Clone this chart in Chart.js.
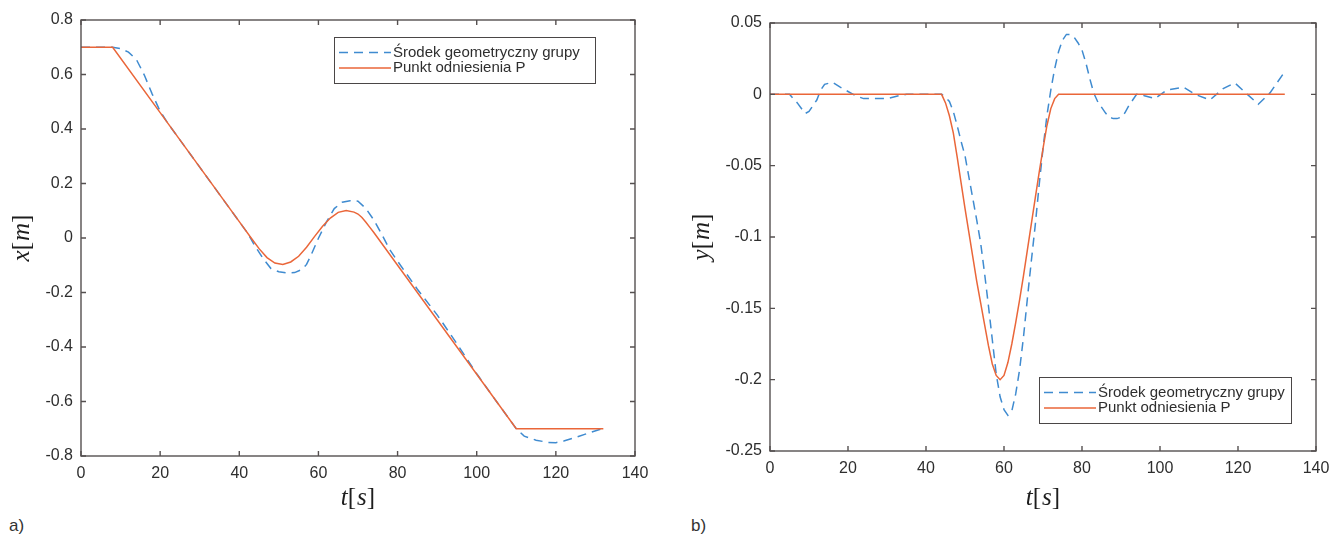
<!DOCTYPE html>
<html>
<head>
<meta charset="utf-8">
<script src="https://cdn.jsdelivr.net/npm/chart.js@4"></script>
<style>
  html, body { margin: 0; padding: 0; background: #fff; }
  body { width: 1341px; height: 538px; position: relative; overflow: hidden; font-family: 'Liberation Sans', Arial, sans-serif; }
  .panel { position: absolute; top: 0; }
  .tag { position: absolute; top: 516px; font-size: 17px; line-height: 20px; color: #333; }
</style>
</head>
<body>
<div class="panel" style="left:0"><canvas id="chartX" width="670" height="515"></canvas></div>
<div class="panel" style="left:680px"><canvas id="chartY" width="661" height="515"></canvas></div>
<div class="tag" style="left:9px">a)</div>
<div class="tag" style="left:691px">b)</div>
<script>
// series labels
const seriesNames = ['Środek geometryczny grupy', 'Punkt odniesienia P'];

// time axis ticks (shared)
const timeTicks = [0, 20, 40, 60, 80, 100, 120, 140];
const timeTickLabels = ['0', '20', '40', '60', '80', '100', '120', '140'];

// a) x position
const xPosTicks = [-0.8, -0.6, -0.4, -0.2, 0, 0.2, 0.4, 0.6, 0.8];
const xPosTickLabels = ['-0.8', '-0.6', '-0.4', '-0.2', '0', '0.2', '0.4', '0.6', '0.8'];

const tGroupX = [0, 8, 10, 12, 14, 16, 18, 20, 22, 30,
  40, 42, 44, 46, 48, 50, 52, 54, 56, 57,
  58, 60, 62, 64, 66, 68, 70, 72, 74, 76,
  78, 80, 85, 90, 95, 100, 105, 108, 110, 112,
  115, 118, 120, 122, 125, 128, 132];
const groupX = [0.70, 0.70, 0.695, 0.682, 0.655, 0.598, 0.528, 0.465, 0.42, 0.26,
  0.06, 0.02, -0.03, -0.075, -0.112, -0.124, -0.128, -0.127, -0.114, -0.097,
  -0.067, -0.001, 0.058, 0.108, 0.131, 0.137, 0.135, 0.108, 0.066, 0.014,
  -0.042, -0.085, -0.188, -0.282, -0.388, -0.498, -0.6, -0.66, -0.7, -0.727,
  -0.742, -0.75, -0.751, -0.745, -0.732, -0.717, -0.698];

const tRefX = [0, 8, 20, 30, 40, 43, 45, 47, 49, 51,
  53, 55, 57, 59, 61, 63, 65, 67, 69, 70,
  71, 72, 73, 74, 90, 110, 132];
const refX = [0.70, 0.70, 0.46, 0.26, 0.06, 0.0, -0.039, -0.072, -0.092, -0.097,
  -0.088, -0.067, -0.034, 0.005, 0.042, 0.073, 0.094, 0.101, 0.095, 0.088,
  0.075, 0.058, 0.039, 0.020, -0.30, -0.70, -0.70];

// b) y position
const yPosTicks = [-0.25, -0.2, -0.15, -0.1, -0.05, 0, 0.05];
const yPosTickLabels = ['-0.25', '-0.2', '-0.15', '-0.1', '-0.05', '0', '0.05'];

const tGroupY = [0, 5, 7, 9, 10, 11, 12, 13, 14, 16, 18, 20, 22, 24, 27, 30, 33, 35, 44,
  45, 46, 47, 48, 49, 50, 51, 52, 53, 54,
  55, 56, 57, 58, 59, 60, 61, 62, 63, 64,
  65, 66, 67, 68, 69, 70, 71, 72, 73, 74,
  75, 76, 77, 78, 79, 80, 81, 82, 83, 84,
  85, 86, 87, 88, 89, 90, 91, 92, 93, 94,
  95, 96, 98.7, 101.7, 106, 109, 112.8, 116.2, 119.2, 122.4, 125.2, 128.2, 131.5, 132];
const groupY = [0, 0, -0.006, -0.0135, -0.012, -0.008, -0.004, 0.003, 0.007, 0.0085, 0.005, 0.002, -0.001, -0.003, -0.003, -0.003, -0.001, 0, 0,
  -0.002, -0.005, -0.012, -0.022, -0.033, -0.043, -0.058, -0.073, -0.088, -0.104,
  -0.125, -0.148, -0.172, -0.196, -0.212, -0.221, -0.225, -0.222, -0.210, -0.193,
  -0.170, -0.143, -0.117, -0.092, -0.064, -0.038, -0.015, 0.003, 0.018, 0.030,
  0.038, 0.042, 0.042, 0.040, 0.036, 0.031, 0.022, 0.011, 0.001, -0.005,
  -0.009, -0.013, -0.016, -0.017, -0.017, -0.016, -0.013, -0.008, -0.004, 0,
  0, -0.001, -0.003, 0.003, 0.005, 0, -0.004, 0.004, 0.008, 0, -0.007, 0.001, 0.014, 0.013];

const tRefY = [0, 44, 45, 46, 47, 48, 49, 50, 51, 52, 53,
  54, 55, 56, 57, 58, 59, 60, 61, 62, 63,
  64, 65, 66, 67, 68, 69, 70, 71, 72, 73, 74, 132];
const refY = [0, 0, -0.006, -0.015, -0.027, -0.044, -0.062, -0.080, -0.097, -0.114, -0.131,
  -0.146, -0.161, -0.176, -0.189, -0.197, -0.200, -0.197, -0.188, -0.175, -0.160,
  -0.144, -0.127, -0.109, -0.091, -0.073, -0.055, -0.038, -0.022, -0.010, -0.003, 0, 0];

const BLUE = '#3f8bd0';
const ORANGE = '#ea6639';
const AXIS = '#555050';
const TEXT = '#2e2e2e';

const pairs = (ts, vs) => ts.map((t, i) => ({ x: t, y: vs[i] }));

// MATLAB-like box with inward ticks on all four sides
const boxAxes = {
  id: 'boxAxes',
  afterDatasetsDraw(chart) {
    const { ctx, chartArea: a, scales: { x, y } } = chart;
    ctx.save();
    ctx.strokeStyle = AXIS;
    ctx.lineWidth = 1.4;
    ctx.strokeRect(a.left, a.top, a.right - a.left, a.bottom - a.top);
    ctx.beginPath();
    x.ticks.forEach(t => {
      const px = x.getPixelForValue(t.value);
      ctx.moveTo(px, a.bottom); ctx.lineTo(px, a.bottom - 5);
      ctx.moveTo(px, a.top); ctx.lineTo(px, a.top + 5);
    });
    y.ticks.forEach(t => {
      const py = y.getPixelForValue(t.value);
      ctx.moveTo(a.left, py); ctx.lineTo(a.left + 5, py);
      ctx.moveTo(a.right, py); ctx.lineTo(a.right - 5, py);
    });
    ctx.stroke();
    ctx.restore();
  }
};

// boxed legend inside the axes
const boxLegend = {
  id: 'boxLegend',
  afterDraw(chart, args, opts) {
    const { ctx } = chart;
    const { left, top, width, height } = opts;
    ctx.save();
    ctx.fillStyle = '#fff';
    ctx.fillRect(left, top, width, height);
    ctx.strokeStyle = '#4a4646';
    ctx.lineWidth = 1;
    ctx.strokeRect(left + 0.5, top + 0.5, width, height);
    ctx.font = '15px "Liberation Sans", Arial, sans-serif';
    ctx.textBaseline = 'middle';
    chart.data.datasets.forEach((ds, i) => {
      const ry = top + 15.5 + i * 15.5;
      ctx.strokeStyle = ds.borderColor;
      ctx.lineWidth = ds.borderWidth;
      ctx.setLineDash(ds.borderDash || []);
      ctx.beginPath();
      ctx.moveTo(left + 5, ry); ctx.lineTo(left + 57, ry);
      ctx.stroke();
      ctx.setLineDash([]);
      ctx.fillStyle = TEXT;
      ctx.fillText(ds.label, left + 59, ry);
    });
    ctx.restore();
  }
};

// axis labels in TeX style: italic letters, upright brackets
function drawMath(ctx, text, cx, cy, rot) {
  const parts = text.match(/[\[\]]|[^\[\]]+/g);
  const fontFor = p => (p === '[' || p === ']' ? '' : 'italic ') + '25px "Liberation Serif", serif';
  const widths = parts.map(p => { ctx.font = fontFor(p); return ctx.measureText(p).width + (p === '[' ? 1 : 0); });
  const total = widths.reduce((s, w) => s + w, 0);
  ctx.save();
  ctx.translate(cx, cy);
  ctx.rotate(rot);
  ctx.fillStyle = '#1e1e1e';
  ctx.textBaseline = 'middle';
  let x = -total / 2;
  parts.forEach((p, i) => {
    ctx.font = fontFor(p);
    ctx.fillText(p, x, 0);
    x += widths[i];
  });
  ctx.restore();
}

const mathTitles = {
  id: 'mathTitles',
  afterDraw(chart, args, opts) {
    const { ctx, chartArea: a } = chart;
    drawMath(ctx, opts.x, (a.left + a.right) / 2, opts.xTitleY, 0);
    drawMath(ctx, opts.y, opts.yTitleX, (a.top + a.bottom) / 2, -Math.PI / 2);
  }
};

function makeChart(id, cfg) {
  new Chart(document.getElementById(id), {
    type: 'line',
    data: {
      datasets: [
        { label: seriesNames[0], data: pairs(cfg.tGroup, cfg.group), borderColor: BLUE, borderWidth: 1.5, borderDash: [9, 6], order: 1 },
        { label: seriesNames[1], data: pairs(cfg.tRef, cfg.ref), borderColor: ORANGE, borderWidth: 1.5, order: 0 }
      ]
    },
    options: {
      responsive: false,
      animation: false,
      elements: { point: { radius: 0 }, line: { tension: 0 } },
      layout: { padding: cfg.padding },
      plugins: {
        legend: { display: false },
        tooltip: { enabled: false },
        boxLegend: cfg.legend,
        mathTitles: { x: 't[s]', y: cfg.yTitle, xTitleY: 498, yTitleX: 22 }
      },
      scales: {
        x: {
          type: 'linear', min: 0, max: 140,
          afterBuildTicks: s => { s.ticks = timeTicks.map(v => ({ value: v })); },
          afterFit: s => { s.height = cfg.xHeight; },
          grid: { display: false, drawTicks: false },
          border: { display: false },
          ticks: { callback: (v, i) => timeTickLabels[i], color: TEXT, padding: 8, maxRotation: 0, font: { family: 'Liberation Sans', size: 16 } }
        },
        y: {
          type: 'linear', min: cfg.yMin, max: cfg.yMax,
          afterBuildTicks: s => { s.ticks = cfg.yTicks.map(v => ({ value: v })); },
          afterFit: s => { s.width = cfg.yWidth; },
          grid: { display: false, drawTicks: false },
          border: { display: false },
          ticks: { callback: (v, i) => cfg.yTickLabels[i], color: TEXT, padding: 8, font: { family: 'Liberation Sans', size: 16 } }
        }
      }
    },
    plugins: [boxAxes, boxLegend, mathTitles]
  });
}

makeChart('chartX', {
  tGroup: tGroupX, group: groupX, tRef: tRefX, ref: refX,
  yMin: -0.8, yMax: 0.8, yTicks: xPosTicks, yTickLabels: xPosTickLabels, yTitle: 'x[m]',
  padding: { left: 8, top: 20, right: 35, bottom: 0 }, yWidth: 73, xHeight: 59,
  legend: { left: 334, top: 37, width: 261, height: 46 }
});

makeChart('chartY', {
  tGroup: tGroupY, group: groupY, tRef: tRefY, ref: refY,
  yMin: -0.25, yMax: 0.05, yTicks: yPosTicks, yTickLabels: yPosTickLabels, yTitle: 'y[m]',
  padding: { left: 8, top: 23, right: 25, bottom: 0 }, yWidth: 82, xHeight: 64,
  legend: { left: 359, top: 377, width: 252, height: 46 }
});
</script>
</body>
</html>
